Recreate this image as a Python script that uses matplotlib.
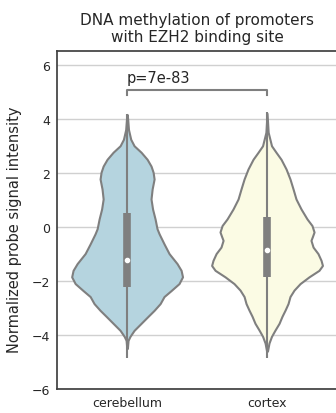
import matplotlib
matplotlib.use('Agg')
import matplotlib.pyplot as plt

# Tejidos y colores de cada violin
tejidos = ['cerebellum', 'cortex']
colores = ['#b5d4df', '#fbfbe4']

# Perfil de densidad (mitad del ancho) a distintas alturas
niveles_cerebelo = [4.16, 4.0, 3.6, 3.24, 3.0, 2.76, 2.5, 2.25, 2.02, 1.77, 1.4, 1.03, 0.66, 0.29, -0.07,
                    -0.26, -0.63, -0.99, -1.36, -1.61, -1.85, -2.1, -2.36, -2.58, -2.84, -3.09, -3.31,
                    -3.57, -3.83, -4.05, -4.2, -4.5]
ancho_cerebelo = [0.0, 0.004, 0.01, 0.026, 0.05, 0.10, 0.143, 0.171, 0.186, 0.193, 0.179, 0.171, 0.182, 0.20,
                  0.214, 0.229, 0.264, 0.30, 0.357, 0.386, 0.396, 0.371, 0.314, 0.264, 0.236, 0.193, 0.15,
                  0.10, 0.05, 0.021, 0.007, 0.002]

niveles_corteza = [4.2, 3.5, 3.0, 2.76, 2.5, 2.14, 1.77, 1.4, 1.03, 0.66, 0.29, 0.05, -0.19, -0.35, -0.5,
                   -0.75, -0.99, -1.24, -1.43, -1.61, -1.85, -2.1, -2.34, -2.58, -2.84, -3.08, -3.31, -3.57,
                   -3.82, -4.05, -4.3, -4.6]
ancho_corteza = [0.0, 0.008, 0.032, 0.064, 0.10, 0.136, 0.164, 0.186, 0.207, 0.243, 0.286, 0.321, 0.336,
                 0.325, 0.314, 0.329, 0.364, 0.386, 0.396, 0.371, 0.30, 0.236, 0.193, 0.164, 0.15, 0.129,
                 0.107, 0.086, 0.057, 0.032, 0.014, 0.003]

# Resumen de caja: bigote inferior, Q1, mediana, Q3, bigote superior
bigote_inf = [-4.86, -4.86]
q1 = [-2.21, -1.85]
mediana = [-1.24, -0.85]
q3 = [0.52, 0.37]
bigote_sup = [4.16, 4.24]

p_valor = 'p=7e-83'
altura_barra = 5.05

perfiles = [(niveles_cerebelo, ancho_cerebelo), (niveles_corteza, ancho_corteza)]

fig = plt.figure(figsize=(3.36, 4.14), dpi=100)
ax = fig.add_axes([0.170, 0.058, 0.833, 0.816])

gris = '#7f7f7f'
for i, (niveles, ancho) in enumerate(perfiles):
    izq = [i - a for a in ancho]
    der = [i + a for a in ancho]
    ax.fill_betweenx(niveles, izq, der, facecolor=colores[i], edgecolor=gris, lw=1.5, zorder=2)
    ax.plot([i, i], [bigote_inf[i], bigote_sup[i]], color=gris, lw=1.5, solid_capstyle='butt', zorder=3)
    ax.plot([i, i], [q1[i], q3[i]], color=gris, lw=5.5, solid_capstyle='butt', zorder=3)
    ax.plot(i, mediana[i], 'o', color='white', ms=3, zorder=4)

# Barra de significancia entre los dos tejidos
ax.plot([0, 0, 1, 1], [altura_barra - 0.18, altura_barra, altura_barra, altura_barra - 0.18],
        color=gris, lw=1.5, zorder=3)
ax.text(0, altura_barra + 0.2, p_valor, ha='left', va='bottom', fontsize=10.5, color='#262626')

ax.set_xlim(-0.5, 1.5)
ax.set_ylim(-6, 6.5)
ax.set_yticks([-6, -4, -2, 0, 2, 4, 6])
ax.set_xticks([0, 1])
ax.set_xticklabels(tejidos)
ax.tick_params(length=0, labelsize=9, colors='#262626', pad=5)
ax.yaxis.grid(True, color='#d0d0d0', lw=1)
ax.set_axisbelow(True)
for lado in ax.spines.values():
    lado.set_color('#404040')
    lado.set_linewidth(1.25)

ax.set_ylabel('Normalized probe signal intensity', fontsize=10.5, color='#262626')
ax.yaxis.set_label_coords(-0.125, 0.473)
ax.set_title('DNA methylation of promoters\nwith EZH2 binding site', fontsize=11, color='#262626', pad=7)

fig.savefig('out.png', dpi=100)
